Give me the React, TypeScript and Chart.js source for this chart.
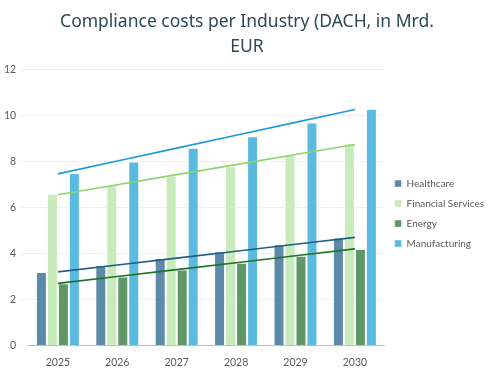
import React, { useEffect, useRef } from "react";
import { Chart, registerables } from "chart.js";

Chart.register(...registerables);

const categories = ["2025", "2026", "2027", "2028", "2029", "2030"];
const healthcare = [3.2, 3.5, 3.8, 4.1, 4.4, 4.7];
const financialServices = [6.6, 7.0, 7.4, 7.8, 8.3, 8.8];
const energy = [2.7, 3.0, 3.3, 3.6, 3.9, 4.2];
const manufacturing = [7.5, 8.0, 8.6, 9.1, 9.7, 10.3];
const titleLines = ["Compliance costs per Industry (DACH, in Mrd.", "EUR"];

function linearTrend(values: number[]): number[] {
  const n = values.length;
  const xs = values.map((_, i) => i + 1);
  const mx = xs.reduce((a, b) => a + b, 0) / n;
  const my = values.reduce((a, b) => a + b, 0) / n;
  let num = 0;
  let den = 0;
  for (let i = 0; i < n; i++) {
    num += (xs[i] - mx) * (values[i] - my);
    den += (xs[i] - mx) * (xs[i] - mx);
  }
  const slope = num / den;
  const intercept = my - slope * mx;
  return xs.map((x) => intercept + slope * x);
}

export default function App() {
  const ref = useRef<HTMLCanvasElement>(null);
  useEffect(() => {
    if (!ref.current) return;
    const font = "Lato, sans-serif";
    const titleFont = "'Noto Sans', sans-serif";
    const barBase = {
      type: "bar" as const,
      order: 2,
      borderWidth: 1,
      borderColor: "rgba(255,255,255,0.45)",
      categoryPercentage: 0.74,
      barPercentage: 1,
    };
    const lineBase = {
      type: "line" as const,
      order: 0,
      pointRadius: 0,
      borderWidth: 1.6,
      fill: false,
      tension: 0,
    };
    const chart = new Chart(ref.current, {
      type: "bar",
      data: {
        labels: categories,
        datasets: [
          { ...barBase, label: "Healthcare", data: healthcare, backgroundColor: "#5b8ba8" },
          { ...barBase, label: "Financial Services", data: financialServices, backgroundColor: "#c8ebbb" },
          { ...barBase, label: "Energy", data: energy, backgroundColor: "#5f9766" },
          { ...barBase, label: "Manufacturing", data: manufacturing, backgroundColor: "#5abae0" },
          { ...lineBase, label: "trend-hc", data: linearTrend(healthcare), borderColor: "#1f5f86" },
          { ...lineBase, label: "trend-fs", data: linearTrend(financialServices), borderColor: "#8ed46f" },
          { ...lineBase, label: "trend-en", data: linearTrend(energy), borderColor: "#1f7029" },
          { ...lineBase, label: "trend-mf", data: linearTrend(manufacturing), borderColor: "#1e9ad6" },
        ] as any,
      },
      options: {
        animation: false,
        responsive: true,
        maintainAspectRatio: false,
        layout: { padding: { left: 0, right: 4, top: 4, bottom: 3 } },
        plugins: {
          title: {
            display: true,
            text: titleLines,
            color: "#2f4856",
            font: { family: titleFont, size: 17.5, weight: "normal" as any, lineHeight: 1.42 },
            padding: { top: 6, bottom: 10 },
          },
          legend: {
            position: "right",
            title: { display: true, text: " ", font: { size: 1 }, padding: { top: 50, bottom: 0 } },
            labels: {
              filter: (item: any) => !String(item.text).startsWith("trend"),
              boxWidth: 7,
              boxHeight: 7,
              padding: 10,
              color: "#595959",
              font: { family: font, size: 10 },
            },
          },
          tooltip: { enabled: false },
        },
        scales: {
          x: {
            grid: { display: false },
            border: { color: "#bfbfbf", width: 1 },
            ticks: { color: "#595959", font: { family: font, size: 10.5 }, padding: 3 },
          },
          y: {
            min: 0,
            max: 12,
            ticks: { stepSize: 2, color: "#595959", font: { family: font, size: 10.5 }, padding: 4 },
            grid: { color: "#efefef" },
            border: { display: false },
          },
        },
      },
    });
    return () => chart.destroy();
  }, []);
  return (
    <div style={{ position: "fixed", left: 0, top: 0, width: 498, height: 375, background: "#fff" }}>
      <canvas ref={ref} />
    </div>
  );
}
